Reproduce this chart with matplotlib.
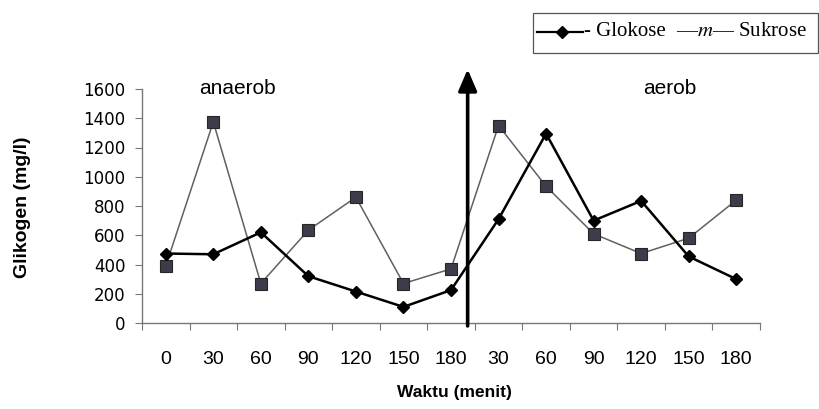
import matplotlib
matplotlib.use("Agg")
import matplotlib.pyplot as plt
from matplotlib.lines import Line2D
from matplotlib.patches import Rectangle

categories = ["0", "30", "60", "90", "120", "150", "180",
              "30", "60", "90", "120", "150", "180"]
glukose = [475, 470, 620, 320, 215, 110, 225, 710, 1295, 700, 835, 455, 300]
sukrose = [390, 1375, 270, 635, 860, 270, 370, 1350, 935, 610, 475, 580, 840]
y_ticks = [0, 200, 400, 600, 800, 1000, 1200, 1400, 1600]

plt.rcParams['mathtext.fontset'] = 'stix'

W, H = 819, 409
fig = plt.figure(figsize=(W / 100, H / 100), dpi=100)
ax = fig.add_axes([142 / W, 1 - 323 / H, (760 - 142) / W, (323 - 89) / H])

x = list(range(len(categories)))
ax.plot(x, sukrose, color='#606060', lw=1.1, marker='s', ms=8.8,
        markerfacecolor='#3c3c4a', markeredgecolor='#262626', markeredgewidth=0.8,
        zorder=3)
ax.plot(x, glukose, color='black', lw=1.8, marker='D', ms=6.3,
        markerfacecolor='black', markeredgecolor='black', zorder=4)

ax.set_xlim(-0.5, len(categories) - 0.5)
ax.set_ylim(0, 1600)

ax.set_yticks(y_ticks)
ax.set_yticklabels([str(v) for v in y_ticks], family='DejaVu Sans', fontsize=12)
ax.tick_params(axis='y', direction='out', length=5, width=0.8, color='#777777',
               pad=7)

ax.set_xticks(x)
ax.set_xticklabels(categories, family=['Liberation Sans Narrow', 'Liberation Sans'],
                   fontsize=14)
ax.set_xticks([i + 0.5 for i in range(-1, len(categories))], minor=True)
ax.tick_params(axis='x', which='major', length=0, pad=20)
ax.tick_params(axis='x', which='minor', direction='out', length=5, width=0.8,
               color='#777777')

for s in ['top', 'right']:
    ax.spines[s].set_visible(False)
for s in ['left', 'bottom']:
    ax.spines[s].set_color('#777777')
    ax.spines[s].set_linewidth(1.0)

ax.text((454 - 142) / 618, (323 - 392) / 234, 'Waktu (menit)', transform=ax.transAxes,
        ha='center', va='center', family='Liberation Sans', fontweight='bold',
        fontsize=12.5)
ax.text((23 - 142) / 618, (323 - 207) / 234, 'Glikogen (mg/l)', transform=ax.transAxes,
        ha='center', va='center', rotation=90, family='Liberation Sans',
        fontweight='bold', fontsize=14)

ax.text(1.5, 1605, 'anaerob', ha='center', va='center', family='Liberation Sans',
        fontsize=15, clip_on=False)
ax.text(10.6, 1605, 'aerob', ha='center', va='center', family='Liberation Sans',
        fontsize=15, clip_on=False)

ax.annotate('', xy=(6.35, 1735), xytext=(6.35, -20),
            arrowprops=dict(arrowstyle='-|>,head_length=0.65,head_width=0.28',
                            lw=2.6, color='black', shrinkA=0, shrinkB=0,
                            mutation_scale=20),
            annotation_clip=False)

# legend box
fig.patches.append(Rectangle((533 / W, 1 - 53 / H), (818 - 533) / W, 40 / H,
                             transform=fig.transFigure, fill=False,
                             edgecolor='#555555', lw=0.9))
ly = 1 - 32 / H
fig.lines.append(Line2D([537 / W, 583 / W], [ly, ly], transform=fig.transFigure,
                        color='black', lw=1.6))
fig.lines.append(Line2D([562 / W], [ly], transform=fig.transFigure, marker='D',
                        ms=6.5, color='black'))
fig.text(584 / W, ly, '- Glokose', ha='left', va='center', family='Liberation Serif',
         fontsize=15)
fig.text(676 / W, ly, '\u2014$m$\u2014 Sukrose', ha='left', va='center',
         family='Liberation Serif', fontsize=15)

fig.savefig('out.png', dpi=100)
